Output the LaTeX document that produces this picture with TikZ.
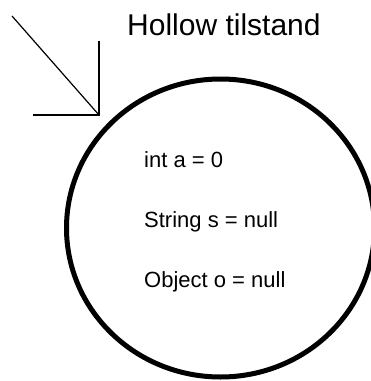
\documentclass[tikz,border=0pt]{standalone}
\usepackage{fontspec}
\setmainfont{Liberation Sans}
\usepackage{tikz}
\usetikzlibrary{shapes.geometric, positioning}

\begin{document}
\begin{tikzpicture}[
        x=1pt, y=-1pt,
        state/.style={
            draw,
            ellipse,
            line width=5pt,
            minimum width=308pt,
            minimum height=298pt,
            inner sep=0pt
        },
        title/.style={
            font=\fontsize{30}{36}\selectfont,
            anchor=base west,
            inner sep=0pt
        },
        field/.style={
            font=\fontsize{22}{26}\selectfont,
            anchor=base west,
            inner sep=0pt
        },
        pointer/.style={
            line width=1.2pt
        }
    ]

    \useasboundingbox (0,0) rectangle (371,381);
    \clip (0,0) rectangle (371,381);

    \node[state] (hollow) at (220.5,228) {};
    \node[title] (name) at (127,35) {Hollow tilstand};

    \node[field] (fa) at (144,167) {int a = 0};
    \node[field] (fs) at (144,227) {String s = null};
    \node[field] (fo) at (144,287) {Object o = null};

    % start arrow, drawn by hand
    \coordinate (tail) at (12,16);
    \coordinate (tip) at (99,115);
    \draw[pointer] (tail) -- (tip);
    \draw[pointer] (tip) ++(0,-74) -- (tip) -- ++(-66,0);

\end{tikzpicture}
\end{document}
